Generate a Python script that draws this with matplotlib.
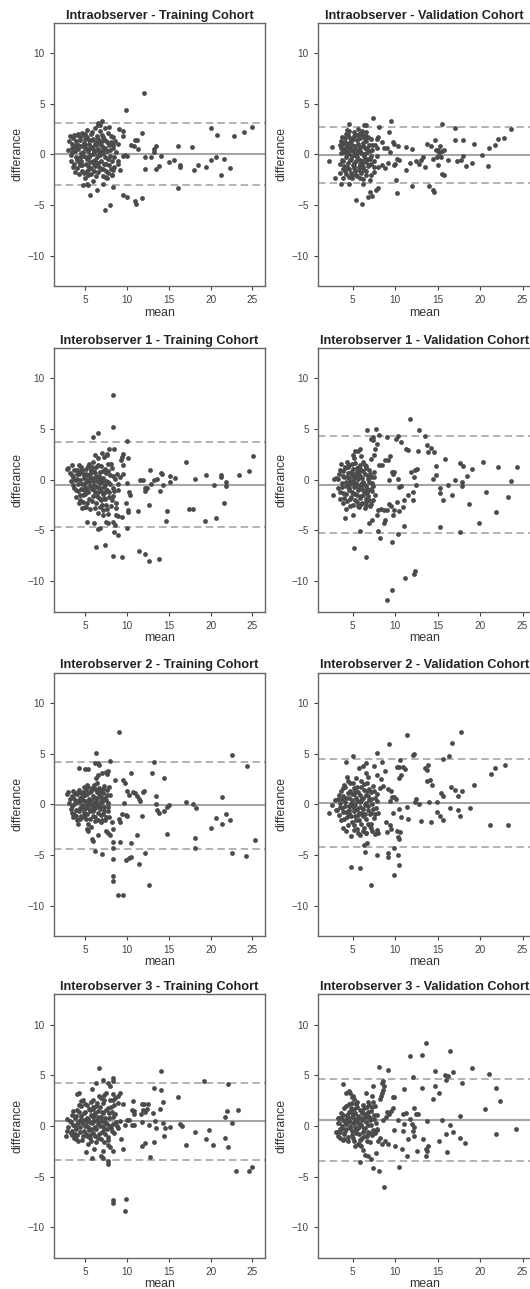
import numpy as np
import matplotlib
matplotlib.use("Agg")
import matplotlib.pyplot as plt

plt.rcParams['font.family'] = ['Liberation Sans', 'DejaVu Sans']

titles = ["Intraobserver - Training Cohort", "Intraobserver - Validation Cohort",
          "Interobserver 1 - Training Cohort", "Interobserver 1 - Validation Cohort",
          "Interobserver 2 - Training Cohort", "Interobserver 2 - Validation Cohort",
          "Interobserver 3 - Training Cohort", "Interobserver 3 - Validation Cohort"]

# bias (mean difference) and limits of agreement per panel
bias = [0.05, -0.05, -0.5, -0.5, -0.1, 0.15, 0.5, 0.6]
loa_upper = [3.1, 2.75, 3.75, 4.35, 4.15, 4.5, 4.2, 4.65]
loa_lower = [-3.0, -2.85, -4.7, -5.25, -4.4, -4.25, -3.35, -3.45]

# (mean, differance) pairs
intra_train = [
    (12.1, 6.1), (9.9, 4.4), (7.0, 3.3), (6.5, 3.1), (6.8, 2.9),
    (11.8, 2.1), (11.0, 1.4), (11.2, 1.4), (10.5, 0.9), (10.9, 0.8), (11.3, 0.5), (13.2, 0.5),
    (13.5, 0.8), (13.2, 0.2), (12.2, -0.3), (12.9, -0.3), (14.1, -0.2), (12.2, -1.4), (13.5, -1.4),
    (13.8, -1.1), (15.0, -0.7), (15.6, -0.5), (16.1, 0.8), (16.3, -1.2), (16.4, -1.0), (17.8, 0.7),
    (18.0, -1.5), (18.5, -1.0), (19.5, -1.2), (20.0, 2.6), (20.0, -0.5), (20.6, -0.3), (20.8, 1.9),
    (21.2, -2.0), (21.6, -0.4), (22.3, -1.3), (22.8, 1.8), (24.0, 2.2), (25.0, 2.7), (16.1, -3.3),
    (9.5, -4.0), (10.0, -4.2), (11.0, -4.6), (11.1, -4.9), (11.8, -4.3), (7.4, -5.5), (8.0, -5.0),
    (5.6, -4.0), (6.4, -3.5), (5.2, -2.9), (5.4, -3.0), (4.8, -3.0), (7.2, -2.9), (8.4, -3.2),
    (8.2, -2.0), (7.4, -2.2), (9.1, 2.5), (9.5, 2.3), (9.6, 1.8), (8.3, 1.7), (9.6, -0.2),
    (9.8, -0.1), (10.0, -0.2), (9.0, -0.6), (8.3, -1.5), (9.2, -1.5),
    (3.0, 0.4), (3.1, 1.3), (3.2, 1.8), (3.3, -0.6), (3.4, 1.0), (3.5, 0.2), (3.6, 1.6), (3.7, -0.9),
    (3.8, 0.7), (3.9, -0.3), (4.0, 1.9), (4.1, -1.3), (4.2, 0.9), (4.3, -0.7), (4.4, 1.4), (4.5, 0.1),
    (4.6, -1.6), (4.7, 2.1), (4.8, -0.2), (4.9, 1.1), (5.0, -2.3), (5.0, 0.6), (5.1, -0.9), (5.2, 1.7),
    (5.3, -0.4), (5.3, 2.4), (5.4, 0.3), (5.5, -1.4), (5.5, 1.0), (5.6, -0.1), (5.7, 2.0), (5.7, -1.9),
    (5.8, 0.7), (5.9, -0.6), (6.0, 1.5), (6.0, -2.6), (6.1, 0.2), (6.2, -1.1), (6.2, 2.6), (6.3, 0.9),
    (6.4, -0.3), (6.4, 1.8), (6.5, -1.7), (6.6, 0.5), (6.6, -0.8), (6.7, 1.3), (6.8, -0.1), (6.8, 2.3),
    (6.9, -1.4), (7.0, 0.8), (7.1, -2.1), (7.1, 1.7), (7.2, 0.1), (7.3, -0.9), (7.4, 2.6), (7.4, 0.6),
    (7.5, -1.6), (7.6, 1.2), (7.7, -0.4), (7.8, 2.1), (7.9, -1.0), (8.0, 0.4), (8.1, 1.8), (8.2, -0.6),
    (8.4, 0.9), (8.5, -1.2), (8.7, 0.2), (8.9, -0.9), (9.0, 1.0), (4.4, -1.0), (4.9, 1.9), (5.8, 1.4),
    (6.1, -1.6), (6.9, 0.3), (7.6, -2.3), (5.4, -2.0), (4.2, 2.0), (3.9, 0.9), (6.5, 2.9), (7.9, 2.7),
    (8.2, -2.0),
    (3.35, -0.1), (3.45, 0.6), (3.55, -1.2), (3.65, 1.9), (3.75, 0.3), (3.85, -1.7), (3.95, 1.3),
    (4.05, -0.5), (4.15, 0.5), (4.25, -1.9), (4.35, 1.7), (4.45, -0.3), (4.55, 0.8), (4.65, -1.0),
    (4.75, 0.2), (4.85, -1.8), (4.95, 0.9), (5.05, 2.0), (5.15, -0.3), (5.25, 0.5), (5.35, -1.1),
    (5.45, 1.4), (5.55, -0.7), (5.65, 0.6), (5.75, -1.3), (5.85, 2.2), (5.95, 0.0), (6.05, -0.9),
    (6.15, 1.0), (6.25, -0.5), (6.35, -2.1), (6.45, 0.4), (6.55, 1.5), (6.65, -1.2), (6.75, 0.1),
    (6.85, 1.0), (6.95, -0.6), (7.05, 1.9), (7.15, -1.4), (7.25, 0.5), (7.35, -0.3), (7.45, 1.4),
    (7.55, -0.9), (7.65, 0.3), (7.75, -1.8), (7.85, 0.9), (7.95, -0.2), (8.05, 1.2), (8.15, -1.4),
    (8.3, 0.6), (8.45, -0.3), (8.6, 1.3), (5.0, 1.5), (5.5, -0.3), (6.0, 0.5), (6.5, -0.1), (7.0, 1.3),
    (4.5, -0.6), (5.3, -1.6), (6.3, 1.2)]

intra_valid = [
    (7.35, 3.6), (9.5, 3.3), (4.6, 3.0), (6.3, 2.9), (6.6, 2.9), (8.1, 2.7), (9.3, 2.2), (8.0, 1.7),
    (7.8, 1.5), (8.5, 1.2), (8.7, 0.6), (9.0, 0.6), (9.7, 1.2), (9.8, 1.0), (10.3, 0.8), (10.2, -0.4),
    (10.5, -0.5), (9.4, 0.2), (9.1, -0.8), (9.8, -1.0), (10.0, -0.9), (8.5, -1.0), (8.0, -1.2),
    (8.8, -1.3), (11.3, 0.7), (11.3, -1.5), (11.7, -0.8), (12.0, 0.5), (12.0, -3.1), (12.5, -0.6),
    (12.8, -0.9), (13.0, -0.5), (13.3, -0.3), (13.5, -1.2), (13.7, 1.0), (14.2, 0.8), (14.7, 1.4),
    (14.5, -0.4), (14.9, -0.3), (15.0, 0.4), (14.8, 0.4), (15.2, 0.1), (15.3, 0.8), (15.4, -0.3),
    (15.5, 0.3), (15.7, 0.4), (15.5, 3.0), (15.5, -1.9), (15.8, -2.0), (14.0, -3.1), (14.5, -3.5),
    (14.6, -3.7), (15.0, -1.0), (16.2, -0.5), (17.0, 2.6), (17.0, 1.4), (17.3, -0.6), (17.8, -0.5),
    (18.0, 1.4), (18.0, -0.2), (18.3, -1.1), (19.0, -0.8), (19.3, 1.0), (20.2, -0.1), (20.9, -1.1),
    (21.0, 0.6), (21.8, 0.9), (22.1, 1.5), (22.8, 1.6), (23.7, 2.5),
    (5.4, -4.5), (6.1, -4.9), (6.8, -4.2), (7.0, -3.7), (7.3, -4.1), (7.7, -3.5), (8.0, -3.3),
    (10.1, -2.5), (10.2, -3.8), (6.2, -2.9), (5.8, -2.3), (4.6, -2.9), (3.6, -2.9), (2.9, -2.3),
    (2.2, -0.6), (2.5, 0.7), (7.0, -2.5), (7.5, -1.7), (7.2, -2.0),
    (3.5, -1.8), (3.6, 0.6), (3.6, 1.3), (3.7, -0.5), (3.8, 0.2), (3.8, -2.3), (3.9, 1.0), (4.0, -1.1),
    (4.0, 0.5), (4.1, 1.6), (4.2, -0.3), (4.2, -1.9), (4.3, 0.9), (4.4, -0.8), (4.4, 1.9), (4.5, 0.0),
    (4.6, -1.4), (4.6, 2.3), (4.7, 0.6), (4.8, -0.4), (4.8, 1.3), (4.9, -2.0), (5.0, 0.3), (5.0, -1.0),
    (5.1, 1.8), (5.2, -0.1), (5.2, 2.2), (5.3, -1.6), (5.3, 0.8), (5.4, -0.6), (5.5, 1.4), (5.5, -2.1),
    (5.6, 0.2), (5.7, -1.2), (5.7, 2.0), (5.8, 0.7), (5.9, -0.5), (5.9, 1.6), (6.0, -1.8), (6.0, 0.1),
    (6.1, 2.3), (6.1, -0.9), (6.2, 1.1), (6.3, -0.2), (6.3, -1.5), (6.4, 0.6), (6.4, 1.9), (6.5, -0.7),
    (6.6, 1.3), (6.6, -2.0), (6.7, 0.2), (6.8, -1.1), (6.9, 0.9), (7.0, -0.4), (7.1, 1.5), (7.2, -0.9),
    (7.3, 0.4), (7.5, -0.6), (7.6, 0.9), (7.8, -0.2), (7.9, 0.6), (4.3, 2.4), (4.9, -2.3), (5.6, 2.5),
    (6.2, -2.4), (3.9, -1.4), (4.1, 1.2), (5.1, -1.3), (5.8, -0.9), (6.5, 2.2),
    (3.45, 0.9), (3.55, -0.9), (3.65, 0.1), (3.75, 1.7), (3.85, -0.6), (3.95, 0.4), (4.05, -1.6),
    (4.15, 2.0), (4.25, 0.6), (4.35, -1.2), (4.45, 0.3), (4.55, 1.1), (4.65, -0.5), (4.75, -1.8),
    (4.85, 0.9), (4.95, -0.2), (5.05, 1.5), (5.15, -0.8), (5.25, 0.5), (5.35, -2.0), (5.45, 1.9),
    (5.55, -0.3), (5.65, 1.0), (5.75, -1.5), (5.85, 0.3), (5.95, 2.1), (6.05, -0.6), (6.15, 0.8),
    (6.25, -1.2), (6.35, 0.0), (6.45, 1.5), (6.55, -1.6), (6.65, 0.6), (6.75, -0.4), (6.85, 1.7),
    (6.95, -1.0), (7.05, 0.3), (7.15, -0.2), (7.3, 0.9), (7.45, -1.2), (4.2, 0.1), (4.7, 1.6),
    (5.2, -1.1), (5.7, 0.5), (6.2, 1.8), (4.9, 0.4), (5.9, -1.3), (6.4, -0.4), (5.4, 0.0), (4.5, -2.2)]

inter1_train = [
    (8.4, 8.4), (8.3, 5.2), (6.0, 4.2), (6.5, 4.6), (10.0, 3.8), (8.5, 3.0), (7.9, 3.0), (7.6, 2.5),
    (9.5, 2.5), (9.4, 2.2), (10.1, 2.1), (9.3, 1.9), (9.6, 1.5), (9.6, 0.6), (9.2, 0.3), (10.0, -0.3),
    (10.3, -1.2), (10.4, -1.5), (9.9, -2.3), (10.1, -3.0), (10.1, -3.2), (11.3, -3.1), (9.4, -3.7),
    (8.9, -3.6), (8.7, -3.5), (8.3, -4.2), (8.6, -4.5), (10.0, -4.8), (8.5, -5.2), (8.9, -5.5),
    (6.8, -4.8), (6.6, -4.9), (6.1, -4.3), (5.3, -4.2), (7.5, -4.2), (7.7, -4.3), (6.3, -6.6),
    (7.4, -6.4), (8.3, -7.5), (9.4, -7.6), (11.4, -7.0), (12.2, -7.3), (12.6, -8.0), (13.8, -7.8),
    (4.6, -2.8), (5.0, -2.7), (4.3, -2.3),
    (11.6, 0.0), (11.9, 0.0), (12.2, -0.8), (12.2, -1.1), (12.4, -0.8), (12.6, -2.5), (12.8, 1.0),
    (12.9, -0.4), (13.3, 0.0), (13.6, 0.1), (13.9, -1.1), (14.1, 0.7), (14.2, 0.6), (14.3, -0.5),
    (15.2, 0.4), (15.2, -0.2), (15.7, 0.2), (14.8, -3.1), (14.7, -4.1), (17.1, 1.8), (17.4, -2.9),
    (17.9, -2.9), (18.1, 0.1), (19.5, 0.5), (19.3, -4.1), (20.4, -0.5), (20.7, -3.8), (21.2, 0.5),
    (21.3, 0.3), (21.6, -2.3), (21.9, -0.2), (21.9, -0.6), (23.4, 0.5), (24.6, 0.9), (25.1, 2.3),
    (2.8, 1.1), (3.0, 1.2), (3.2, 0.7), (3.3, -0.1), (3.5, 1.5), (3.6, 0.3), (3.7, -0.8), (3.9, -1.7),
    (4.0, 1.0), (4.1, 0.1), (4.2, -1.1), (4.3, 0.6), (4.4, -2.0), (4.5, 1.3), (4.6, -0.4), (4.7, 0.8),
    (4.8, -1.5), (4.9, 0.2), (5.0, -0.7), (5.1, 1.1), (5.2, -2.3), (5.3, 0.5), (5.4, -1.2), (5.5, 1.6),
    (5.5, -0.2), (5.6, -2.9), (5.7, 0.9), (5.8, -0.9), (5.9, 0.2), (6.0, 1.8), (6.0, -1.6), (6.1, -0.5),
    (6.2, 0.7), (6.3, -2.3), (6.3, 1.3), (6.4, -0.1), (6.5, -1.2), (6.6, 2.1), (6.6, -3.3), (6.7, 0.4),
    (6.8, -0.8), (6.9, 1.4), (6.9, -2.0), (7.0, -0.2), (7.1, 0.9), (7.2, -1.4), (7.2, -3.0), (7.3, 2.2),
    (7.4, -0.5), (7.5, 0.7), (7.5, -2.5), (7.6, -1.0), (7.7, 1.6), (7.8, -0.2), (7.8, -3.4), (7.9, -1.7),
    (8.0, 0.5), (8.1, -2.6), (8.2, 1.2), (8.3, -0.8), (8.4, -1.6), (8.6, 0.1), (8.7, -2.3), (8.9, -1.0),
    (9.0, -0.4), (6.2, 2.4), (7.0, 2.6), (7.6, 2.4), (5.1, -2.7), (4.9, -1.0), (6.8, -2.7), (7.3, -1.8),
    (5.8, 1.3), (6.5, 0.3), (7.1, -3.5),
    (3.4, 0.5), (3.55, -0.5), (3.65, 1.0), (3.8, 0.0), (3.95, -1.0), (4.05, 0.6), (4.15, -0.4),
    (4.25, 1.5), (4.35, -1.5), (4.45, 0.0), (4.55, -0.9), (4.65, 1.0), (4.75, -2.2), (4.85, 0.5),
    (4.95, -0.3), (5.05, -1.4), (5.15, 0.6), (5.25, -0.9), (5.35, 1.4), (5.45, -1.9), (5.55, 0.2),
    (5.65, -0.6), (5.75, 1.1), (5.85, -2.1), (5.95, -0.1), (6.05, 0.9), (6.15, -1.2), (6.25, -2.8),
    (6.35, 0.3), (6.45, -0.7), (6.55, 1.5), (6.65, -1.8), (6.75, -0.3), (6.85, 0.8), (6.95, -1.1),
    (7.05, -2.5), (7.15, 0.2), (7.25, -0.7), (7.35, 1.1), (7.45, -1.9), (7.55, -0.1), (7.65, -2.9),
    (7.75, 0.9), (7.85, -1.2), (7.95, -0.4), (8.05, 1.6), (8.2, -2.0), (8.35, 0.4), (8.5, -1.1),
    (8.65, -2.8), (8.8, 0.6), (5.2, 0.0), (6.0, -0.9), (6.8, 0.1), (7.4, -1.2), (5.6, 0.6), (6.4, -1.6),
    (4.4, 0.8)]

inter1_valid = [
    (11.75, 6.0), (7.75, 5.0), (6.7, 4.9), (7.4, 4.2), (7.2, 4.0), (8.1, 4.4), (7.4, 3.9), (9.0, 4.2),
    (10.1, 4.0), (10.3, 4.3), (10.7, 3.7), (12.75, 4.9), (13.5, 4.3), (13.8, 3.4), (14.2, 3.1),
    (13.9, 2.7), (14.6, 2.7), (14.8, 1.4), (14.8, 0.5), (14.5, 0.1),
    (7.8, 3.5), (7.6, 3.0), (7.5, 2.4), (7.2, 2.0), (6.5, 1.4), (5.6, 2.8), (5.9, 3.0), (5.3, 2.8),
    (5.0, 2.4), (6.0, 2.3), (8.1, 1.5), (8.5, 1.5), (8.8, 1.9), (9.2, 1.9), (9.4, 2.3), (9.6, 0.8),
    (9.8, 0.8), (9.7, 0.6), (9.3, 0.0), (10.3, 0.1), (10.5, -0.7), (10.7, -0.6), (11.5, 2.9),
    (11.3, 3.0), (11.9, 0.8), (12.3, 1.0), (12.6, 1.1), (12.7, 2.8), (12.2, 0.3), (12.4, -0.5),
    (12.1, -1.2), (12.1, -2.0), (11.0, -2.0), (11.5, -1.5), (10.9, -2.7), (10.4, -3.1), (10.2, -2.2),
    (9.8, -3.0), (9.7, -3.5), (9.3, -2.4), (9.5, -2.6), (9.0, -3.0), (8.7, -3.0), (8.3, -2.9),
    (8.0, -3.0), (7.9, -3.5), (8.8, -4.0), (8.7, -4.3), (7.3, -4.0), (6.9, -4.3), (8.0, -5.1),
    (8.2, -5.7), (5.8, -5.1), (5.0, -3.5), (4.1, -3.8), (4.2, -2.9), (5.1, -6.7), (6.6, -7.6),
    (9.6, -6.1), (10.3, -5.4), (11.0, -4.6), (9.0, -11.9), (9.6, -10.9), (11.1, -9.7), (12.2, -9.3),
    (12.3, -9.0),
    (15.3, -0.8), (15.3, -1.3), (15.6, -2.0), (15.3, -4.7), (15.9, 2.0), (16.2, -0.5), (16.7, -1.5),
    (17.0, 0.0), (17.6, 1.7), (18.0, 1.4), (17.9, -0.2), (17.9, -0.6), (18.5, 0.4), (18.7, -2.4),
    (19.1, 1.1), (17.6, -5.2), (19.9, -4.3), (20.3, 1.8), (20.7, -1.2), (21.9, -3.2), (22.1, 1.3),
    (23.3, -1.7), (23.6, -0.1), (24.3, 1.3),
    (2.7, -1.5), (2.8, 0.1), (3.0, 0.2), (3.2, -0.8), (3.4, 0.6), (3.5, -1.9), (3.6, 1.6), (3.7, -0.3),
    (3.8, 0.9), (3.9, -1.3), (4.0, 0.3), (4.1, 1.2), (4.2, -0.6), (4.3, -2.1), (4.4, 0.7), (4.5, -1.0),
    (4.6, 1.5), (4.7, -0.1), (4.8, -1.7), (4.9, 0.5), (5.0, -2.5), (5.0, 1.1), (5.1, -0.7), (5.2, 0.2),
    (5.3, -1.4), (5.3, 1.7), (5.4, -0.3), (5.5, -2.2), (5.5, 0.8), (5.6, -1.0), (5.7, 1.3), (5.7, -2.7),
    (5.8, -0.5), (5.9, 0.4), (6.0, -1.6), (6.0, 1.0), (6.1, -2.3), (6.2, -0.2), (6.2, 1.8), (6.3, -1.1),
    (6.4, 0.6), (6.5, -1.9), (6.5, -0.6), (6.6, 1.2), (6.7, -1.3), (6.8, 0.1), (6.9, -2.0), (7.0, 0.6),
    (7.1, -0.9), (7.2, -2.4), (7.3, -0.3), (7.5, 0.3), (7.6, -1.5), (4.3, 1.8), (4.7, -2.6), (5.2, 2.1),
    (5.8, -1.8), (6.4, -2.8), (5.9, 1.5), (4.5, -0.5), (6.9, 1.0), (7.4, -2.0), (3.9, -2.3), (4.9, -1.2),
    (6.1, 0.2),
    (3.3, 0.1), (3.45, -1.2), (3.55, 1.0), (3.7, -0.7), (3.85, 0.4), (3.95, -1.8), (4.05, 1.3),
    (4.15, -0.2), (4.25, -1.4), (4.35, 0.3), (4.45, 1.3), (4.55, -0.8), (4.65, -1.9), (4.75, 0.8),
    (4.85, -0.3), (4.95, 1.6), (5.05, -1.3), (5.15, 0.6), (5.25, -2.0), (5.35, -0.6), (5.45, 1.2),
    (5.55, -1.5), (5.65, 0.1), (5.75, -0.9), (5.85, 1.1), (5.95, -2.4), (6.05, -0.3), (6.15, 0.9),
    (6.25, -1.5), (6.35, -0.4), (6.45, 1.5), (6.55, -2.2), (6.65, -0.9), (6.75, 0.4), (6.85, -1.6),
    (6.95, -0.2), (7.05, -2.6), (7.15, 0.3), (7.25, -1.1), (7.4, -0.6), (7.55, 0.8), (5.0, -0.1),
    (5.6, -2.6), (6.2, -1.0), (6.8, -1.0), (4.6, 0.2), (5.4, 0.4), (6.0, -0.7), (5.7, 0.6), (6.6, -2.5)]

inter2_train = [
    (9.06, 7.1), (6.3, 5.1), (6.2, 4.1), (6.6, 4.1), (6.7, 3.9), (7.0, 3.1), (6.6, 2.9), (6.3, 2.6),
    (7.5, 3.2), (7.7, 3.3), (8.0, 4.3), (7.6, 3.0), (4.3, 3.6), (5.0, 3.5), (5.4, 3.5), (8.6, 2.4),
    (9.5, 2.4), (9.8, 2.1), (10.5, 3.1), (10.0, 1.3), (10.2, 0.9), (9.7, 0.1), (10.7, 1.2), (11.0, 1.1),
    (11.2, 0.8), (11.4, 0.5), (11.6, 0.3), (11.9, 1.2), (12.0, 1.3), (11.8, -1.2), (9.9, -1.1),
    (10.0, -1.2), (9.4, -1.0), (9.1, -1.5), (9.2, -1.8), (8.2, -1.8), (8.3, -2.4), (8.0, -3.0),
    (7.8, -2.8), (9.2, -3.7), (8.3, -3.7), (10.5, -3.8), (11.2, -3.0), (8.3, -4.3), (8.3, -5.4),
    (9.9, -5.5), (10.3, -5.3), (10.5, -5.2), (11.4, -5.9), (12.2, -4.8), (12.7, -8.0), (8.3, -7.1),
    (8.3, -7.6), (9.0, -9.0), (9.5, -9.0), (7.0, -4.9), (6.2, -4.6), (6.0, -3.6), (5.8, -3.4),
    (5.4, -2.6), (5.2, -2.4), (6.6, -3.0), (7.5, -2.6),
    (13.0, 3.1), (13.3, 4.2), (13.5, 0.8), (13.5, 0.0), (13.6, -0.6), (13.8, -0.9), (14.4, -0.7),
    (14.4, 2.6), (14.8, -0.3), (15.0, -0.1), (14.8, -2.9), (17.1, 0.2), (17.9, 0.0), (18.2, -0.4),
    (18.1, -3.3), (18.1, -4.3), (20.0, -2.3), (20.6, -1.4), (21.4, 0.7), (21.4, -1.9), (21.8, -1.0),
    (22.3, -1.6), (22.6, 4.9), (22.6, -4.8), (24.2, -5.1), (24.3, 3.8), (25.3, -3.5),
    (2.8, 1.0), (3.0, 1.2), (3.1, 0.1), (3.3, -0.5), (3.4, 0.8), (3.5, -0.2), (3.6, 1.3), (3.7, -1.0),
    (3.8, 0.4), (3.9, -0.6), (4.0, 1.0), (4.1, -1.6), (4.2, 0.2), (4.3, 1.4), (4.4, -0.4), (4.5, -1.2),
    (4.6, 0.7), (4.7, -0.1), (4.8, 1.2), (4.9, -0.8), (5.0, 0.3), (5.1, -1.5), (5.2, 1.0), (5.3, -0.3),
    (5.4, 1.7), (5.4, -1.9), (5.5, 0.5), (5.6, -0.7), (5.7, 1.3), (5.8, -0.1), (5.9, -1.2), (6.0, 0.8),
    (6.1, 1.9), (6.1, -0.5), (6.2, -1.7), (6.3, 0.3), (6.4, 1.2), (6.5, -0.9), (6.6, 0.0), (6.7, 1.6),
    (6.8, -0.5), (6.9, -1.8), (7.0, 0.6), (7.1, -1.0), (7.2, 1.1), (7.3, -0.3), (7.4, -1.6), (7.5, 0.4),
    (7.6, 1.4), (7.7, -0.7), (7.8, 0.1), (7.9, -1.3), (8.0, 0.9), (4.2, -1.9), (4.9, 1.7), (5.7, -2.2),
    (6.4, 2.1), (7.3, 1.8), (3.6, -1.3), (5.1, 0.0), (6.0, -0.3), (6.9, 0.3), (7.9, 1.7),
    (3.25, 0.5), (3.45, -0.9), (3.55, 0.7), (3.7, 0.0), (3.85, 1.1), (3.95, -1.2), (4.05, 0.3),
    (4.15, 1.2), (4.25, -0.7), (4.35, 0.6), (4.45, -1.5), (4.55, 1.1), (4.65, -0.4), (4.75, 0.4),
    (4.85, -1.3), (4.95, 0.9), (5.05, -0.4), (5.15, 1.4), (5.25, -1.0), (5.35, 0.2), (5.45, -0.5),
    (5.55, 1.2), (5.65, -1.5), (5.75, 0.4), (5.85, 1.6), (5.95, -0.7), (6.05, 0.1), (6.15, -1.3),
    (6.25, 1.5), (6.35, -0.3), (6.45, 0.6), (6.55, -1.6), (6.65, 1.0), (6.75, -0.2), (6.85, 1.3),
    (6.95, -1.1), (7.05, 0.2), (7.15, 1.5), (7.25, -0.7), (7.35, 0.6), (7.5, -1.3), (7.65, 0.9),
    (7.8, -0.3), (5.0, -1.0), (5.6, 0.0), (6.2, 0.6), (4.4, 0.3), (6.8, 0.8), (5.3, 1.9), (7.0, -1.6)]

inter2_valid = [
    (11.35, 6.8), (9.3, 5.9), (17.8, 7.1), (16.7, 6.0), (16.3, 4.8), (15.6, 4.5), (12.1, 4.9),
    (12.2, 5.0), (10.6, 4.4), (10.5, 3.7), (10.9, 3.7), (11.1, 3.5), (10.2, 3.7), (10.4, 2.6),
    (10.7, 2.9), (13.5, 3.6), (13.7, 3.4), (13.9, 3.9), (13.8, 2.3), (14.1, 2.4), (14.3, 1.9),
    (15.4, 1.1), (15.6, 0.8), (16.6, 1.7), (17.0, 1.4), (17.4, 0.8), (17.9, 1.3), (19.3, 1.9),
    (21.3, 3.0), (21.7, 3.6), (22.9, 3.9), (12.3, 0.2), (12.5, 0.5), (12.8, 0.0), (13.0, -1.7),
    (14.0, 0.2), (14.9, 0.2), (14.2, -1.8), (14.9, -0.8), (15.3, -1.2), (15.6, -1.6), (16.4, -0.4),
    (17.4, -0.6), (17.6, -1.2), (18.8, -0.4), (21.2, -2.0), (23.3, -2.0), (11.4, -0.3), (11.5, -1.5),
    (10.7, -1.3), (10.5, -0.5), (10.2, -2.6), (10.3, -3.2), (10.4, -3.4), (10.6, -2.7), (9.7, -0.9),
    (9.5, -2.4), (9.4, -2.0), (9.0, -2.7), (8.9, -1.8), (9.8, -4.3), (9.1, -4.8), (9.1, -5.2),
    (10.3, -5.0), (10.5, -6.0), (9.8, -7.0), (7.8, -5.0), (7.1, -8.0), (5.9, -6.3), (4.8, -6.2),
    (6.4, -4.7), (6.3, -4.0), (6.7, -3.8), (6.6, -2.8), (7.2, -2.3), (8.0, -2.8), (7.6, -2.9),
    (7.9, 5.1), (8.4, 4.2), (7.5, 3.8), (7.8, 2.9), (8.3, 2.5), (8.8, 3.3), (9.2, 1.5), (9.5, 1.3),
    (9.4, 0.3), (9.6, 0.7), (9.8, 0.7), (10.1, 0.5), (8.6, 1.8), (8.2, 1.6), (6.2, 3.8), (6.5, 4.1),
    (5.7, 3.6), (5.0, 4.8), (4.2, 4.2), (6.6, 3.1),
    (2.2, -0.9), (2.5, -0.1), (2.9, 0.4), (3.0, -0.6),
    (3.1, -0.6), (3.3, 0.5), (3.4, -1.1), (3.5, 0.1), (3.6, 1.3), (3.7, -0.4), (3.8, -2.3), (3.9, 0.8),
    (4.0, -1.5), (4.1, 0.2), (4.1, 1.7), (4.2, -0.8), (4.3, 2.7), (4.4, -2.0), (4.5, 0.6), (4.6, -0.2),
    (4.7, 1.3), (4.8, -1.2), (4.8, -3.1), (4.9, 0.4), (5.0, 2.1), (5.1, -0.7), (5.1, -2.5), (5.2, 1.0),
    (5.3, -0.1), (5.4, -1.6), (5.5, 1.7), (5.5, 0.3), (5.6, -2.8), (5.7, -0.9), (5.8, 0.9), (5.9, -0.3),
    (6.0, 2.3), (6.0, -1.9), (6.1, 0.5), (6.2, -1.2), (6.3, 1.4), (6.3, -2.3), (6.4, -0.1), (6.5, 0.9),
    (6.6, -1.5), (6.7, 2.1), (6.8, -0.6), (6.9, 0.4), (7.0, -2.1), (7.1, 1.2), (7.2, -0.9), (7.3, 0.0),
    (7.4, 1.8), (7.5, -1.4), (7.6, 0.6), (7.7, -0.4), (7.8, -2.5), (7.9, 1.0), (8.0, -0.9), (4.4, 2.3),
    (5.4, 2.6), (5.9, -3.0), (6.8, 2.7), (5.2, -2.0), (6.5, -2.8), (3.9, 1.6), (4.6, -1.1), (7.2, -1.9),
    (3.35, 0.9), (3.45, -0.3), (3.6, -1.6), (3.7, 0.5), (3.85, -0.8), (3.95, 1.9), (4.05, -0.2),
    (4.15, -2.6), (4.25, 0.6), (4.35, -1.3), (4.45, 1.1), (4.55, -0.6), (4.65, 2.1), (4.75, 0.0),
    (4.85, -1.8), (4.95, 1.0), (5.05, -0.3), (5.15, 1.6), (5.25, -1.2), (5.35, 0.6), (5.45, -2.4),
    (5.55, -0.5), (5.65, 1.2), (5.75, -1.6), (5.85, 0.2), (5.95, 1.7), (6.05, -0.9), (6.15, -2.6),
    (6.25, 0.6), (6.35, 2.0), (6.45, -1.0), (6.55, 0.1), (6.65, 1.3), (6.75, -1.9), (6.85, -0.2),
    (6.95, 1.5), (7.05, -1.0), (7.15, 0.5), (7.25, -2.6), (7.35, -0.5), (7.5, 1.3), (7.65, -1.0),
    (7.8, 0.3), (5.0, 0.0), (5.6, -1.1), (6.2, -0.5), (6.8, 0.8), (4.5, -0.9), (5.3, 1.3), (6.0, 0.4)]

inter3_train = [
    (6.7, 5.7), (8.4, 4.7), (8.3, 4.4), (8.0, 4.0), (7.7, 4.2), (6.3, 4.2), (7.2, 4.5), (5.8, 3.7),
    (4.3, 3.3), (4.0, 3.2), (9.2, 3.3), (9.0, 3.0), (8.6, 2.8), (8.4, 2.6), (9.6, 2.2), (9.0, 2.3),
    (10.7, 2.5), (10.9, 1.5), (10.6, 1.6), (10.8, 1.2), (10.9, 0.1), (10.6, 0.1), (10.0, 0.6),
    (10.3, 0.6), (9.2, 0.5), (9.8, 0.1), (11.8, 2.2), (12.1, 2.2), (12.5, 2.2), (11.9, 1.6),
    (12.4, 1.7), (12.2, 1.4), (11.7, 1.2), (11.8, 0.4), (12.6, 0.1), (13.2, 3.8), (13.1, 1.3),
    (13.4, 0.5), (13.5, -0.2), (14.0, 1.7), (14.1, 3.6), (14.1, 5.4), (14.3, 2.4), (14.3, 0.3),
    (14.4, -1.0), (14.6, -0.2), (15.1, -0.1), (16.1, 2.9), (16.3, 0.2), (16.6, 0.0), (17.1, -1.9),
    (18.1, -0.6), (19.2, 4.4), (19.5, -1.3), (19.8, -0.4), (20.3, -1.9), (21.7, 0.9), (21.7, -1.2),
    (22.0, 1.5), (22.1, 4.1), (22.1, -2.1), (22.6, 0.3), (23.3, 1.6), (23.0, -4.4), (24.6, -4.4),
    (25.0, -4.0),
    (12.2, -1.7), (11.8, -2.0), (12.8, -3.1), (13.2, -1.6), (9.5, -2.3), (9.3, -1.3), (8.3, -2.5),
    (8.0, -2.1), (7.7, -3.4), (7.8, -3.7), (6.9, -3.0), (7.2, -3.2), (7.2, -2.5), (5.8, -3.2),
    (6.1, -2.3), (5.1, -2.6), (8.3, -7.3), (8.4, -7.6), (9.9, -7.2), (9.8, -8.4),
    (2.7, -1.0), (2.9, -0.5), (2.9, 0.7), (3.4, -0.9), (3.9, -1.3),
    (3.0, -0.1), (3.2, 0.5), (3.3, -0.7), (3.5, 1.1), (3.6, 0.1), (3.7, -1.2), (3.8, 0.8), (3.9, -0.3),
    (4.0, 1.6), (4.1, -0.9), (4.2, 0.4), (4.3, 2.1), (4.4, -0.1), (4.5, 1.0), (4.6, -1.4), (4.7, 0.6),
    (4.8, 2.6), (4.9, -0.5), (5.0, 1.4), (5.1, 0.1), (5.2, -1.0), (5.3, 2.1), (5.4, 0.7), (5.5, -0.4),
    (5.6, 1.6), (5.7, -1.5), (5.8, 0.3), (5.9, 2.6), (6.0, -0.7), (6.1, 1.1), (6.2, -0.1), (6.3, 2.0),
    (6.4, 0.6), (6.5, -1.2), (6.6, 1.5), (6.7, 3.0), (6.8, 0.0), (6.9, 0.9), (7.0, -0.6), (7.1, 2.3),
    (7.2, 1.3), (7.3, -1.6), (7.4, 0.4), (7.5, 3.3), (7.6, -0.3), (7.7, 1.8), (7.8, -1.1), (7.9, 0.8),
    (8.0, 2.6), (8.1, -0.2), (8.2, 1.4), (8.3, 0.2), (8.5, -0.7), (8.6, 1.2), (8.8, 0.0), (9.0, -0.2),
    (4.5, 2.5), (5.6, -0.9), (6.9, 2.8), (7.7, -1.9), (6.3, -1.6), (5.4, -1.8), (7.3, 3.1), (8.4, 3.2),
    (5.0, 0.6), (6.0, 1.7), (7.0, 0.5),
    (3.35, 0.4), (3.5, -0.5), (3.6, 1.5), (3.75, 0.0), (3.85, -0.8), (3.95, 1.0), (4.05, 0.2),
    (4.15, -1.5), (4.25, 1.4), (4.35, 0.6), (4.45, -0.6), (4.55, 2.0), (4.65, 0.3), (4.75, -1.0),
    (4.85, 1.3), (4.95, 0.0), (5.05, 2.2), (5.15, -0.8), (5.25, 0.8), (5.35, -0.1), (5.45, 1.7),
    (5.55, 0.4), (5.65, -1.2), (5.75, 1.1), (5.85, -0.3), (5.95, 1.9), (6.05, 0.5), (6.15, -1.0),
    (6.25, 1.3), (6.35, -0.3), (6.45, 2.3), (6.55, 0.2), (6.65, -0.8), (6.75, 1.9), (6.85, 0.5),
    (6.95, -1.3), (7.05, 1.4), (7.15, 0.0), (7.25, 2.6), (7.35, 0.8), (7.45, -0.8), (7.55, 1.6),
    (7.65, 0.2), (7.75, -1.4), (7.85, 1.3), (7.95, 0.0), (8.05, 1.9), (8.2, -0.5), (8.35, 0.9),
    (8.5, 2.1), (8.7, 0.4), (5.2, 0.5), (6.0, 0.9), (6.6, 0.9), (7.3, -0.3), (5.7, 2.4), (4.8, 0.5)]

inter3_valid = [
    (13.6, 8.2), (16.4, 7.4), (13.2, 7.0), (11.7, 6.9), (8.1, 5.8), (9.2, 5.5), (12.1, 4.8),
    (14.7, 5.4), (15.9, 5.0), (16.2, 4.9), (16.0, 4.5), (16.8, 5.3), (19.1, 5.7), (21.0, 5.1),
    (21.9, 3.8), (22.3, 2.5), (20.6, 1.7), (17.9, 4.2), (14.7, 4.0), (15.2, 3.3), (14.5, 2.7),
    (13.2, 3.8), (11.0, 3.7), (17.6, 1.0), (15.5, 0.6), (13.7, 0.5), (12.4, 1.2), (12.7, 1.2),
    (12.2, 1.8), (11.8, 0.7), (12.0, 0.2), (12.2, -0.1), (12.1, -0.5), (11.3, 1.3), (10.9, 1.2),
    (11.0, 0.2), (10.9, -0.5), (11.5, -1.3), (10.8, -2.3), (11.4, -3.0), (10.4, -4.0), (12.2, -1.0),
    (12.6, -2.5), (13.3, -1.3), (13.6, -2.3), (13.7, -2.5), (13.6, -3.0), (13.9, -2.0), (15.1, -1.5),
    (16.0, -0.8), (16.1, -2.6), (16.4, 0.1), (16.8, -0.6), (17.6, -1.2), (18.2, -1.7), (21.9, -0.8),
    (24.2, -0.3),
    (8.4, 4.2), (8.6, 4.4), (8.7, 4.0), (8.5, 3.3), (8.6, 3.6), (8.3, 3.0), (7.4, 4.0), (7.3, 3.0),
    (6.6, 3.3), (6.8, 2.4), (8.2, 2.7), (9.7, 2.9), (9.9, 2.9), (9.0, 1.4), (9.5, 1.5), (9.7, 1.8),
    (9.3, 1.2), (8.9, 0.9), (8.6, 0.6), (10.3, 0.6), (9.9, -0.4), (10.0, -2.0), (9.1, -1.8),
    (8.8, -1.5), (8.5, -1.8), (8.2, -1.2), (8.0, -1.5), (7.9, -0.3), (7.6, -0.7), (7.7, -2.7),
    (7.2, -3.3), (7.4, -4.1), (8.1, -4.4), (8.7, -6.0), (6.8, -3.0), (6.4, -2.9), (6.2, -2.4),
    (6.0, -2.0), (5.9, -3.5), (5.6, -1.8), (5.3, -2.0),
    (3.1, -0.6), (3.2, 0.8), (3.5, -1.2), (3.9, 4.1), (4.2, 3.3), (4.5, 3.5), (4.7, 3.3), (4.9, 2.9),
    (5.2, 2.7), (5.0, 3.0),
    (3.0, -0.6), (3.2, 0.3), (3.3, -1.0), (3.4, 0.8), (3.5, -0.3), (3.6, 1.3), (3.7, 0.0), (3.8, -1.4),
    (3.9, 0.6), (4.0, 1.8), (4.1, -0.5), (4.2, 0.2), (4.3, 1.1), (4.4, -1.1), (4.5, 0.5), (4.6, 2.2),
    (4.7, -0.2), (4.8, 1.4), (4.9, -0.9), (5.0, 0.3), (5.1, 1.7), (5.2, -1.5), (5.3, 0.7), (5.4, -0.4),
    (5.5, 2.4), (5.6, 1.0), (5.7, -0.8), (5.8, 0.2), (5.9, 1.6), (6.0, -1.3), (6.1, 0.6), (6.2, 2.1),
    (6.3, -0.3), (6.4, 1.2), (6.5, -1.0), (6.6, 0.4), (6.7, 1.9), (6.8, -0.6), (6.9, 0.9), (7.0, -1.6),
    (7.1, 1.5), (7.2, 0.1), (7.3, -0.9), (7.5, 0.7), (7.6, 2.0), (7.8, -0.4), (7.9, 1.1), (4.0, -1.3),
    (4.9, 2.3), (5.8, -1.9), (6.7, -1.5), (5.3, -0.1), (6.1, 1.5), (4.4, 0.9), (7.4, 2.4),
    (3.35, 0.3), (3.45, -0.6), (3.6, 0.8), (3.7, -0.2), (3.85, 1.1), (3.95, -0.8), (4.05, 0.4),
    (4.15, 2.0), (4.25, -0.3), (4.35, 0.8), (4.45, -1.5), (4.55, 1.4), (4.65, 0.0), (4.75, 1.8),
    (4.85, -0.5), (4.95, 0.9), (5.05, -1.2), (5.15, 0.4), (5.25, 1.3), (5.35, -0.7), (5.45, 0.6),
    (5.55, 1.9), (5.65, -0.2), (5.75, 0.9), (5.85, -1.4), (5.95, 0.1), (6.05, 1.3), (6.15, -0.6),
    (6.25, 0.8), (6.35, 1.8), (6.45, -0.2), (6.55, 0.9), (6.65, -1.0), (6.75, 1.4), (6.85, 0.1),
    (6.95, 2.1), (7.05, -0.7), (7.15, 0.7), (7.25, 1.9), (7.4, -0.4), (7.55, 1.1), (7.7, 0.3),
    (5.0, 1.1), (5.6, 0.3), (6.2, -1.1), (6.8, 1.0), (4.6, 0.5), (5.4, 2.2), (6.0, 0.0), (7.0, 0.6)]

panels = [intra_train, intra_valid, inter1_train, inter1_valid,
          inter2_train, inter2_valid, inter3_train, inter3_valid]

xticks = [5, 10, 15, 20, 25]
yticks = [-10, -5, 0, 5, 10]

W, H = 530, 1289
fig = plt.figure(figsize=(W / 100, H / 100), dpi=100)

col_left = [54, 318]
col_width = [211, 213]
col_xlim = [(1.3, 26.5), (0.9, 26.0)]
row_top = [22.7, 348.0, 672.5, 994.3]
row_h = 263.5

dot_color = '#4b4b4b'
line_color = '#a6a6a6'
spine_color = '#666666'

for i, data in enumerate(panels):
    r, c = divmod(i, 2)
    ax = fig.add_axes([col_left[c] / W, 1 - (row_top[r] + row_h) / H,
                       col_width[c] / W, row_h / H])
    arr = np.array(data)
    ax.scatter(arr[:, 0], arr[:, 1], s=12, color=dot_color, linewidths=0, zorder=3)
    ax.axhline(bias[i], color=line_color, lw=1.5, zorder=2)
    ax.axhline(loa_upper[i], color=line_color, lw=1.2, ls=(0, (4.5, 2.5)), zorder=2)
    ax.axhline(loa_lower[i], color=line_color, lw=1.2, ls=(0, (4.5, 2.5)), zorder=2)
    ax.set_xlim(*col_xlim[c])
    ax.set_ylim(-13, 13)
    ax.set_xticks(xticks)
    ax.set_yticks(yticks)
    ax.tick_params(labelsize=7.2, colors='#444444', length=3, width=0.8, direction='out')
    for sp in ax.spines.values():
        sp.set_color(spine_color)
        sp.set_linewidth(1.0)
    ax.set_title(titles[i], fontsize=9.2, fontweight='bold', color='#222222', pad=3)
    ax.set_xlabel('mean', fontsize=8.8, color='#333333', labelpad=1)
    ax.set_ylabel('differance', fontsize=8.8, color='#333333', labelpad=3)

fig.savefig('out.png', dpi=100)
